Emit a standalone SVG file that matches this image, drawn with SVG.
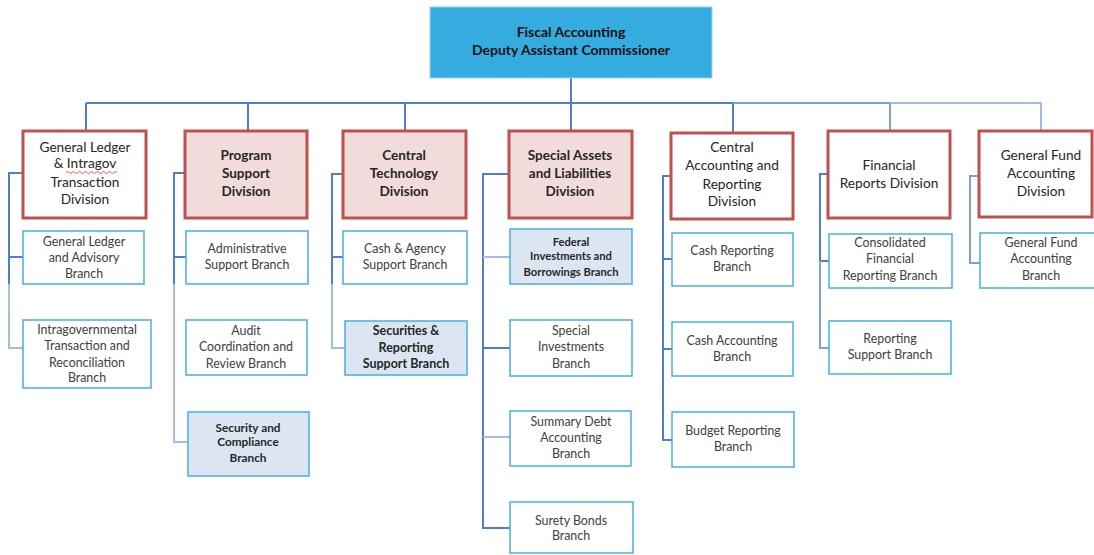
<svg xmlns="http://www.w3.org/2000/svg" width="1094" height="555" viewBox="0 0 1094 555">
<style>
text{font-family:Lato,"Liberation Sans",sans-serif;text-anchor:middle}
.top{fill:#35ACDF;stroke:#9DD3EE;stroke-width:1}
.div{fill:#fff;stroke:#C0504D;stroke-width:3}
.divp{fill:#F2DCDB;stroke:#C0504D;stroke-width:3}
.br{fill:#fff;stroke:#45B0E1;stroke-width:1.5}
.brs{fill:#DCE6F2;stroke:#45B0E1;stroke-width:1.5}
.t0{font-size:14px;font-weight:bold;fill:#111}
.td{font-size:13.7px;fill:#262626}
.tdb{font-size:13.5px;font-weight:bold;fill:#262626}
.tb{font-size:12.4px;fill:#404040}
.tbs{font-size:11.8px;font-weight:bold;fill:#262626}
.c{fill:none;stroke:#4F7FCB;stroke-width:2}
.cl{fill:none;stroke:#A3BDE6;stroke-width:2}
.cm{fill:none;stroke:#7E9FDA;stroke-width:2}
</style>
<g id="connectors">
<path class="c" d="M571 78V103M86 103H733M86 103V131M248 103V131M405 103V131M571 103V131M733 103V133"/>
<path class="cm" d="M733 103H890M890 103V131"/>
<path class="cl" d="M890 103H1041V131"/>
<path class="c" d="M23 173H9V284M9 257H23"/>
<path class="cl" d="M9 284V348H23"/>
<path class="c" d="M185 173H174V284M174 257H186"/>
<path class="cl" d="M174 284V442H188"/>
<path class="c" d="M343 174H332V284M332 257H343"/>
<path class="cl" d="M332 284V348H345"/>
<path class="c" d="M509 174H483V528H510M483 348H510"/>
<path class="cl" d="M483 257H510M483 437H510"/>
<path class="c" d="M671 176H663V440H672M663 259H672M663 349H672"/>
<path class="c" d="M828 174H820V261H829"/>
<path class="cm" d="M820 261V348H829"/>
<path class="cm" d="M979 176H970V263H980"/>
</g>
<g id="n-top"><rect class="top" x="430" y="7" width="282" height="71"/><text class="t0" x="571" y="37">Fiscal Accounting</text><text class="t0" x="571" y="55">Deputy Assistant Commissioner</text></g>
<g id="n-div1"><rect class="div" x="23" y="131" width="123" height="87"/><text class="td" x="85" y="152">General Ledger</text><text class="td" x="85" y="168">&amp; Intragov</text><text class="td" x="85" y="187">Transaction</text><text class="td" x="85" y="204">Division</text><path d="M66 172.5q1.5-2 3 0t3 0 3 0 3 0 3 0 3 0 3 0 3 0 3 0 3 0 3 0 3 0 3 0 3 0 3 0 3 0 3 0" fill="none" stroke="#E03030" stroke-width="0.8"/></g>
<g id="n-b1a"><rect class="br" x="23" y="231" width="121" height="53"/><text class="tb" x="84" y="246">General Ledger</text><text class="tb" x="84" y="262">and Advisory</text><text class="tb" x="84" y="278">Branch</text></g>
<g id="n-b1b"><rect class="br" x="23" y="320" width="128" height="68"/><text class="tb" x="87" y="334">Intragovernmental</text><text class="tb" x="87" y="350">Transaction and</text><text class="tb" x="87" y="367">Reconciliation</text><text class="tb" x="87" y="382">Branch</text></g>
<g id="n-div2"><rect class="divp" x="185" y="131" width="122" height="87"/><text class="tdb" x="246" y="160">Program</text><text class="tdb" x="246" y="178">Support</text><text class="tdb" x="246" y="196">Division</text></g>
<g id="n-b2a"><rect class="br" x="186" y="231" width="122" height="53"/><text class="tb" x="247" y="253">Administrative</text><text class="tb" x="247" y="269">Support Branch</text></g>
<g id="n-b2b"><rect class="br" x="186" y="320" width="121" height="55"/><text class="tb" x="246" y="335">Audit</text><text class="tb" x="246" y="351">Coordination and</text><text class="tb" x="246" y="368">Review Branch</text></g>
<g id="n-b2c"><rect class="brs" x="188" y="412" width="121" height="64"/><text class="tbs" x="248" y="432">Security and</text><text class="tbs" x="248" y="446">Compliance</text><text class="tbs" x="248" y="462">Branch</text></g>
<g id="n-div3"><rect class="divp" x="343" y="131" width="123" height="87"/><text class="tdb" x="404" y="160">Central</text><text class="tdb" x="404" y="178">Technology</text><text class="tdb" x="404" y="196">Division</text></g>
<g id="n-b3a"><rect class="br" x="343" y="231" width="124" height="53"/><text class="tb" x="405" y="253" fill="#595959">Cash &amp; Agency</text><text class="tb" x="405" y="269" fill="#595959">Support Branch</text></g>
<g id="n-b3b"><rect class="brs" x="345" y="321" width="122" height="54"/><text class="tbs" x="406" y="335" style="font-size:12.5px">Securities &amp;</text><text class="tbs" x="406" y="352" style="font-size:12.5px">Reporting</text><text class="tbs" x="406" y="368" style="font-size:12.5px">Support Branch</text></g>
<g id="n-div4"><rect class="divp" x="509" y="131" width="123" height="87"/><text class="tdb" x="570" y="160">Special Assets</text><text class="tdb" x="570" y="178">and Liabilities</text><text class="tdb" x="570" y="196">Division</text></g>
<g id="n-b4a"><rect class="brs" x="510" y="229" width="122" height="55"/><text class="tbs" x="571" y="246" style="font-size:11.2px">Federal</text><text class="tbs" x="571" y="260" style="font-size:11.2px">Investments and</text><text class="tbs" x="571" y="276" style="font-size:11.2px">Borrowings Branch</text></g>
<g id="n-b4b"><rect class="br" x="510" y="320" width="122" height="56"/><text class="tb" x="571" y="335">Special</text><text class="tb" x="571" y="351">Investments</text><text class="tb" x="571" y="368">Branch</text></g>
<g id="n-b4c"><rect class="br" x="510" y="411" width="121" height="55"/><text class="tb" x="571" y="426">Summary Debt</text><text class="tb" x="571" y="442">Accounting</text><text class="tb" x="571" y="458">Branch</text></g>
<g id="n-b4d"><rect class="br" x="510" y="502" width="123" height="51"/><text class="tb" x="571" y="525">Surety Bonds</text><text class="tb" x="571" y="540">Branch</text></g>
<g id="n-div5"><rect class="div" x="671" y="133" width="122" height="86"/><text class="td" x="732" y="152">Central</text><text class="td" x="732" y="170">Accounting and</text><text class="td" x="732" y="189">Reporting</text><text class="td" x="732" y="206">Division</text></g>
<g id="n-b5a"><rect class="br" x="672" y="233" width="121" height="53"/><text class="tb" x="732" y="255">Cash Reporting</text><text class="tb" x="732" y="271">Branch</text></g>
<g id="n-b5b"><rect class="br" x="672" y="322" width="121" height="54"/><text class="tb" x="732" y="345">Cash Accounting</text><text class="tb" x="732" y="361">Branch</text></g>
<g id="n-b5c"><rect class="br" x="672" y="412" width="122" height="55"/><text class="tb" x="733" y="435">Budget Reporting</text><text class="tb" x="733" y="451">Branch</text></g>
<g id="n-div6"><rect class="div" x="828" y="131" width="122" height="87"/><text class="td" x="889" y="170">Financial</text><text class="td" x="889" y="188">Reports Division</text></g>
<g id="n-b6a"><rect class="br" x="829" y="234" width="123" height="54"/><text class="tb" x="890" y="247">Consolidated</text><text class="tb" x="890" y="263">Financial</text><text class="tb" x="890" y="280">Reporting Branch</text></g>
<g id="n-b6b"><rect class="br" x="829" y="321" width="122" height="53"/><text class="tb" x="890" y="343">Reporting</text><text class="tb" x="890" y="359">Support Branch</text></g>
<g id="n-div7"><rect class="div" x="979" y="131" width="113" height="86"/><text class="td" x="1041" y="160">General Fund</text><text class="td" x="1041" y="178">Accounting</text><text class="td" x="1041" y="196">Division</text></g>
<g id="n-b7a"><rect class="br" x="980" y="233" width="116" height="55"/><text class="tb" x="1041" y="247">General Fund</text><text class="tb" x="1041" y="263">Accounting</text><text class="tb" x="1041" y="280">Branch</text></g>
</svg>
